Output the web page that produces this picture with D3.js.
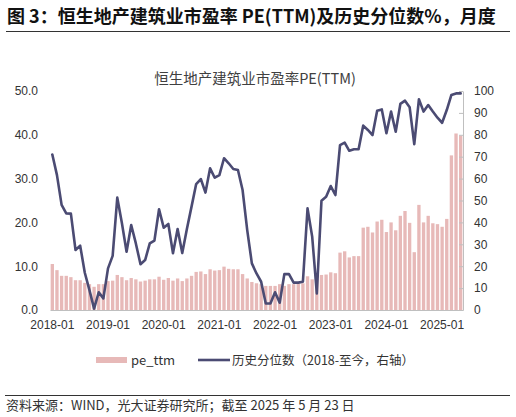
<!DOCTYPE html>
<html>
<head>
<meta charset="utf-8">
<script src="https://cdn.jsdelivr.net/npm/d3@7"></script>
<style>
  html, body { margin: 0; padding: 0; background: #ffffff; }
  svg { display: block; font-family: "Noto Sans CJK SC", "Noto Sans", sans-serif; }
</style>
</head>
<body>
<svg id="chart" width="516" height="417"></svg>
<script>
// ---- data ----
const months = [
  "2018-01","2018-02","2018-03","2018-04","2018-05","2018-06","2018-07","2018-08","2018-09","2018-10","2018-11","2018-12",
  "2019-01","2019-02","2019-03","2019-04","2019-05","2019-06","2019-07","2019-08","2019-09","2019-10","2019-11","2019-12",
  "2020-01","2020-02","2020-03","2020-04","2020-05","2020-06","2020-07","2020-08","2020-09","2020-10","2020-11","2020-12",
  "2021-01","2021-02","2021-03","2021-04","2021-05","2021-06","2021-07","2021-08","2021-09","2021-10","2021-11","2021-12",
  "2022-01","2022-02","2022-03","2022-04","2022-05","2022-06","2022-07","2022-08","2022-09","2022-10","2022-11","2022-12",
  "2023-01","2023-02","2023-03","2023-04","2023-05","2023-06","2023-07","2023-08","2023-09","2023-10","2023-11","2023-12",
  "2024-01","2024-02","2024-03","2024-04","2024-05","2024-06","2024-07","2024-08","2024-09","2024-10","2024-11","2024-12",
  "2025-01","2025-02","2025-03","2025-04","2025-05"
];
const peTTM = [
  10.5, 9.1, 7.8, 7.8, 7.5, 6.8, 6.8, 6.2, 5.9, 5.3, 5.9, 5.9,
  6.6, 6.7, 8.0, 7.5, 6.8, 7.3, 7.0, 6.5, 6.7, 7.0, 7.0, 7.6,
  6.9, 7.3, 6.7, 7.2, 6.6, 7.2, 7.8, 8.7, 8.8, 8.2, 9.3, 9.0,
  9.1, 9.9, 9.4, 9.3, 9.3, 8.2, 7.2, 6.4, 6.1, 5.9, 5.5, 5.5,
  5.5, 5.9, 5.5, 5.9, 5.9, 6.1, 6.1, 7.7, 7.0, 8.0, 8.0, 8.1,
  8.6, 8.4, 13.1, 13.4, 12.0, 12.3, 12.3, 18.8, 19.0, 17.7, 20.2, 20.6,
  17.8, 20.0, 18.2, 21.5, 22.6, 19.9, 13.2, 24.0, 20.0, 21.5, 19.8, 19.6,
  19.0, 20.8, 35.3, 40.3, 39.8
];
const percentile = [
  71.0, 61.6, 48.0, 44.1, 44.0, 27.4, 29.4, 17.0, 9.1, 0.6, 8.1, 5.3,
  19.0, 24.7, 51.3, 39.6, 26.6, 38.8, 30.4, 20.9, 22.8, 30.4, 31.7, 46.0,
  37.6, 39.3, 25.9, 37.0, 26.0, 37.0, 47.2, 57.5, 59.8, 53.6, 64.7, 60.4,
  61.6, 69.3, 67.0, 64.4, 63.9, 54.8, 36.5, 21.3, 16.7, 12.9, 3.0, 3.0,
  8.1, 3.3, 16.4, 16.4, 12.5, 12.5, 12.9, 46.4, 33.5, 7.6, 49.9, 51.7,
  56.6, 52.5, 75.3, 76.4, 72.7, 73.4, 73.4, 84.2, 82.2, 79.9, 91.0, 91.6,
  80.7, 90.6, 81.4, 94.1, 95.6, 92.6, 75.7, 96.2, 90.6, 93.6, 90.6, 87.8,
  85.5, 91.3, 98.2, 98.9, 98.9
];
const xTickLabels = ["2018-01","2019-01","2020-01","2021-01","2022-01","2023-01","2024-01","2025-01"];
const leftTicks = [0, 10, 20, 30, 40, 50];
const rightTicks = [0, 10, 20, 30, 40, 50, 60, 70, 80, 90, 100];
const titleText = "图 3：恒生地产建筑业市盈率 PE(TTM)及历史分位数%，月度";
const chartTitle = "恒生地产建筑业市盈率PE(TTM)";
const legendBar = "pe_ttm";
const legendLine = "历史分位数（2018-至今，右轴）";
const sourceText = "资料来源：WIND，光大证券研究所；截至 2025 年 5 月 23 日";

// ---- drawing ----
const svg = d3.select("#chart");
const barColor = "#e7b9b8";
const lineColor = "#4b4b73";
const axisColor = "#bfbfbf";
const textColor = "#333333";

const plot = { left: 50, right: 463, top: 91, bottom: 310 };

const x = d3.scaleBand().domain(months).range([plot.left, plot.right]).paddingInner(0.28).paddingOuter(0.14);
const yL = d3.scaleLinear().domain([0, 50]).range([plot.bottom, plot.top]);
const yR = d3.scaleLinear().domain([0, 100]).range([plot.bottom, plot.top]);

// header
svg.append("text").attr("x", 7).attr("y", 23)
  .attr("font-size", 18).attr("font-weight", "bold").attr("fill", "#111")
  .text(titleText);
svg.append("line").attr("x1", 6).attr("x2", 510).attr("y1", 31.5).attr("y2", 31.5)
  .attr("stroke", "#333").attr("stroke-width", 1);

svg.append("text").attr("x", 255).attr("y", 84).attr("text-anchor", "middle")
  .attr("font-size", 14.5).attr("fill", "#404040").text(chartTitle);

// bars
svg.append("g").selectAll("rect").data(months).join("rect")
  .attr("x", d => x(d))
  .attr("width", x.bandwidth())
  .attr("y", (d, i) => yL(peTTM[i]))
  .attr("height", (d, i) => yL(0) - yL(peTTM[i]))
  .attr("fill", barColor);

// bottom axis
const gx = svg.append("g").attr("transform", `translate(0,${plot.bottom})`)
  .call(d3.axisBottom(x).tickValues(xTickLabels).tickSize(0).tickPadding(10));
gx.select(".domain").attr("stroke", axisColor).attr("stroke-width", 1.2);
gx.selectAll("text").attr("font-size", 12).attr("fill", textColor).attr("font-family", null);

// left axis
const gl = svg.append("g").attr("transform", `translate(${plot.left - 12},0)`)
  .call(d3.axisLeft(yL).tickValues(leftTicks).tickFormat(d3.format(".1f")).tickSize(0).tickPadding(0));
gl.select(".domain").remove();
gl.selectAll("text").attr("font-size", 12).attr("fill", textColor).attr("font-family", null);

// right axis
const gr = svg.append("g").attr("transform", `translate(${plot.right},0)`)
  .call(d3.axisRight(yR).tickValues(rightTicks).tickSize(-4).tickSizeOuter(0).tickPadding(11));
gr.select(".domain").attr("stroke", axisColor);
gr.selectAll(".tick line").attr("stroke", axisColor);
gr.selectAll("text").attr("font-size", 12).attr("fill", textColor).attr("font-family", null);

// line
const line = d3.line()
  .x((d, i) => x(months[i]) + x.bandwidth() / 2)
  .y(d => yR(d));
svg.append("path").datum(percentile)
  .attr("d", line).attr("fill", "none")
  .attr("stroke", lineColor).attr("stroke-width", 2.6)
  .attr("stroke-linejoin", "round").attr("stroke-linecap", "round");

// legend
const lg = svg.append("g");
lg.append("rect").attr("x", 96).attr("y", 357).attr("width", 31).attr("height", 6).attr("fill", barColor);
lg.append("text").attr("x", 131).attr("y", 364.5).attr("font-size", 13).attr("fill", textColor).text(legendBar);
lg.append("line").attr("x1", 198).attr("x2", 230).attr("y1", 360).attr("y2", 360)
  .attr("stroke", lineColor).attr("stroke-width", 2.6);
lg.append("text").attr("x", 232).attr("y", 364.5).attr("font-size", 12.5).attr("fill", textColor).text(legendLine);

// footer
svg.append("line").attr("x1", 5).attr("x2", 510).attr("y1", 395.5).attr("y2", 395.5)
  .attr("stroke", "#333").attr("stroke-width", 1);
svg.append("text").attr("x", 6).attr("y", 409.5).attr("font-size", 13).attr("fill", textColor).text(sourceText);
</script>
</body>
</html>
